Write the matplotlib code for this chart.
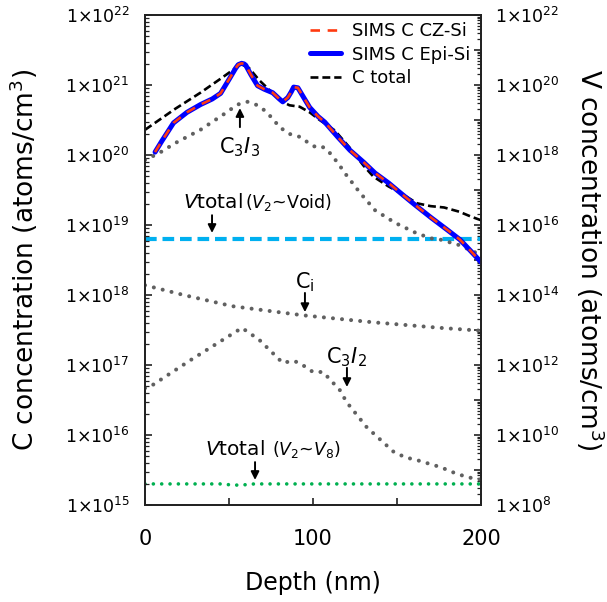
import numpy as np
import matplotlib
matplotlib.use('Agg')
import matplotlib.pyplot as plt
from matplotlib.ticker import LogLocator, FuncFormatter, MultipleLocator, NullFormatter

# depth (nm) and concentrations
sims_depth = [6, 10, 17, 25, 33, 40, 45, 50, 54, 55.5, 57.5, 59, 60, 63, 67, 71, 76, 80,
              82, 85, 87, 88.5, 91, 95, 98, 103, 107, 115, 122, 130, 137, 145, 152, 160,
              170, 180, 187.5, 195, 200]
sims_cz = [1.10e20, 1.58e20, 2.88e20, 4.07e20, 5.25e20, 6.31e20, 7.59e20, 1.20e21,
           1.74e21, 1.95e21, 2.04e21, 2.00e21, 1.91e21, 1.41e21, 9.77e20, 8.71e20,
           7.76e20, 6.31e20, 5.75e20, 6.61e20, 7.94e20, 9.33e20, 9.12e20, 6.31e20,
           4.79e20, 3.55e20, 2.95e20, 1.78e20, 1.17e20, 7.94e19, 5.50e19, 3.98e19,
           2.88e19, 2.00e19, 1.29e19, 8.50e18, 6.17e18, 3.98e18, 2.95e18]
sims_epi = [1.10e20, 1.58e20, 2.88e20, 4.07e20, 5.25e20, 6.31e20, 7.59e20, 1.20e21,
            1.74e21, 1.95e21, 2.04e21, 2.00e21, 1.91e21, 1.41e21, 9.77e20, 8.71e20,
            7.76e20, 6.31e20, 5.75e20, 6.61e20, 7.94e20, 9.33e20, 9.12e20, 6.31e20,
            4.79e20, 3.55e20, 2.95e20, 1.78e20, 1.17e20, 7.94e19, 5.50e19, 3.98e19,
            2.88e19, 2.00e19, 1.29e19, 8.50e18, 6.17e18, 3.98e18, 2.95e18]

ctot_depth = [0, 18, 33, 45, 52, 57, 62, 68, 74, 82, 86, 92, 98, 104, 113, 122, 130,
              136, 145, 152, 162, 170, 178, 187, 194, 200]
ctot = [2.29e20, 4.57e20, 7.76e20, 1.23e21, 1.62e21, 2.00e21, 1.74e21, 1.17e21, 8.51e20,
        5.75e20, 5.13e20, 4.90e20, 4.07e20, 3.16e20, 2.24e20, 1.26e20, 7.08e19, 4.90e19,
        3.55e19, 2.88e19, 2.04e19, 1.86e19, 1.78e19, 1.55e19, 1.32e19, 1.17e19]

c3i3_depth = [0, 8, 18, 33, 48, 55, 61, 66, 71, 76, 80, 86, 92, 97, 101, 104, 107, 110,
              115, 119, 128, 137, 149, 161, 170, 176, 187.5, 200]
c3i3 = [8.51e19, 1.05e20, 1.48e20, 2.29e20, 3.98e20, 5.25e20, 5.75e20, 5.25e20, 4.37e20,
        3.31e20, 2.51e20, 2.00e20, 1.82e20, 1.51e20, 1.32e20, 1.35e20, 1.26e20, 1.07e20,
        7.59e19, 5.50e19, 2.88e19, 1.62e19, 1.07e19, 7.76e18, 6.46e18, 6.17e18, 5.13e18,
        3.72e18]

ci_depth = [0, 23, 52, 94, 136, 176, 200]
ci = [1.38e18, 1.00e18, 6.92e17, 5.13e17, 4.07e17, 3.39e17, 3.09e17]

c3i2_depth = [0, 3, 27, 43, 57.7, 68, 82, 88, 92, 100, 106, 116, 120, 132, 148, 155, 162,
              176, 183, 191.5, 200]
c3i2 = [4.68e16, 4.90e16, 1.17e17, 2.04e17, 3.39e17, 2.29e17, 1.07e17, 1.15e17, 1.07e17,
        7.94e16, 7.94e16, 4.37e16, 2.95e16, 1.29e16, 5.75e15, 4.79e15, 4.37e15, 3.47e15,
        2.95e15, 2.51e15, 2.29e15]

# vacancy totals, right axis
vvoid_depth = [0, 200]
vvoid = [4e15, 4e15]
v8_depth = [0, 45, 50, 55, 60, 65, 200]
v8 = [4e8, 4e8, 3.8e8, 3.7e8, 3.8e8, 4e8, 4e8]


def sci(v, pos):
    return r'1$\times$10$^{%d}$' % round(np.log10(v))


def sci_even(v, pos):
    e = round(np.log10(v))
    if e % 2:
        return ''
    return r'1$\times$10$^{%d}$' % e


fig = plt.figure(figsize=(6.07, 6.02), dpi=100)
ax = fig.add_axes([145 / 607, 1 - 505 / 602, 336 / 607, 490 / 602])
ax2 = ax.twinx()

dot = dict(color='#606060', lw=2.9, linestyle=(0, (0.01, 2.25)), dash_capstyle='round')
ax.plot(c3i3_depth, c3i3, **dot)
ax.plot(ci_depth, ci, **dot)
ax.plot(c3i2_depth, c3i2, **dot)

ax2.plot(vvoid_depth, vvoid, color='#00B0F0', lw=3.0, linestyle=(0, (2.8, 1.4)))
ax2.plot(v8_depth, v8, color='#00B050', lw=2.6, linestyle=(0, (0.01, 2.3)),
         dash_capstyle='round')

l_tot, = ax.plot(ctot_depth, ctot, color='black', lw=1.9, linestyle=(0, (3.0, 1.5)),
                 label='C total')
l_epi, = ax.plot(sims_depth, sims_epi, color='#0000FF', lw=3.6, solid_capstyle='round',
                 solid_joinstyle='round', label='SIMS C Epi-Si')
l_cz, = ax.plot(sims_depth, sims_cz, color='#FF3A10', lw=1.9, linestyle=(0, (3.6, 2.9)),
                label='SIMS C CZ-Si')
# bring the C lines above the right-axis lines
ax.set_zorder(ax2.get_zorder() + 1)
ax.patch.set_visible(False)

ax.set_xlim(0, 200)
ax.set_yscale('log')
ax.set_ylim(1e15, 1e22)
ax2.set_yscale('log')
ax2.set_ylim(1e8, 1e22)

ax.xaxis.set_major_locator(MultipleLocator(50))
ax.xaxis.set_major_formatter(FuncFormatter(lambda v, p: '%d' % v if v % 100 == 0 else ''))
ax.yaxis.set_major_locator(LogLocator(base=10, numticks=20))
ax.yaxis.set_minor_locator(LogLocator(base=10, subs=np.arange(2, 10), numticks=100))
ax.yaxis.set_major_formatter(FuncFormatter(sci))
ax.yaxis.set_minor_formatter(NullFormatter())
ax2.yaxis.set_major_locator(LogLocator(base=10, numticks=40))
ax2.yaxis.set_minor_locator(LogLocator(base=10, subs=np.arange(2, 10), numticks=100))
ax2.yaxis.set_major_formatter(FuncFormatter(sci_even))
ax2.yaxis.set_minor_formatter(NullFormatter())

for a in (ax, ax2):
    a.tick_params(which='major', direction='in', length=5, width=1.2, color='#222222')
    a.tick_params(which='minor', direction='in', length=3, width=0.9, color='#222222')
    for s in a.spines.values():
        s.set_linewidth(1.3)
        s.set_color('#222222')
ax.tick_params(axis='y', which='both', labelsize=12.5, pad=11)
ax.tick_params(axis='x', which='both', labelsize=15, pad=17)
ax.tick_params(axis='x', which='minor', length=0)
ax2.tick_params(axis='y', which='both', labelsize=12.5, pad=10)

ax.set_xlabel('Depth (nm)', fontsize=17, va='center')
ax.xaxis.set_label_coords(0.5, (505 - 583) / 490)
ax.set_ylabel('C concentration (atoms/cm$^3$)', fontsize=19, va='center')
ax.yaxis.set_label_coords((24 - 145) / 336, 0.5)
ax2.set_ylabel('V concentration (atoms/cm$^3$)', fontsize=19, rotation=270, va='center')
ax2.yaxis.set_label_coords((590 - 145) / 336, 0.5)

ax.legend(handles=[l_cz, l_epi, l_tot], loc='upper left', bbox_to_anchor=(0.491, 0.985),
          frameon=False, fontsize=13, handlelength=1.7, handletextpad=0.65,
          labelspacing=0.3, borderpad=0, borderaxespad=0)

# annotations
arrow = dict(arrowstyle='-|>', color='black', lw=1.4, mutation_scale=12, shrinkA=0, shrinkB=0)
ax.annotate('', xy=(56.5, 4.68e20), xytext=(56.5, 2.5e20), arrowprops=arrow)
ax.text(56.5, 1.07e20, r'C$_3$$\mathit{I}$$_3$', fontsize=15, ha='center', va='baseline')

ax.annotate('', xy=(39.9, 7.7e18), xytext=(39.9, 1.38e19), arrowprops=arrow)
ax.text(22.6, 1.74e19, r'$\mathit{V}$total', fontsize=14.5, ha='left', va='baseline')
ax.text(59.5, 1.74e19, r'($\mathit{V}_2$~Void)', fontsize=12.5, ha='left', va='baseline')

ax.annotate('', xy=(95.2, 5.7e17), xytext=(95.2, 1.07e18), arrowprops=arrow)
ax.text(95.2, 1.26e18, r'C$_\mathrm{i}$', fontsize=15, ha='center', va='baseline')

ax.annotate('', xy=(120.2, 4.85e16), xytext=(120.2, 9.1e16), arrowprops=arrow)
ax.text(120.2, 1.07e17, r'C$_3$$\mathit{I}$$_2$', fontsize=15, ha='center', va='baseline')

ax.annotate('', xy=(65.5, 2.28e15), xytext=(65.5, 4.1e15), arrowprops=arrow)
ax.text(35.7, 5.1e15, r'$\mathit{V}$total', fontsize=14.5, ha='left', va='baseline')
ax.text(75.6, 5.1e15, r'($\mathit{V}_2$~$\mathit{V}_8$)', fontsize=12.5, ha='left',
        va='baseline')

fig.savefig('out.png', dpi=100)
